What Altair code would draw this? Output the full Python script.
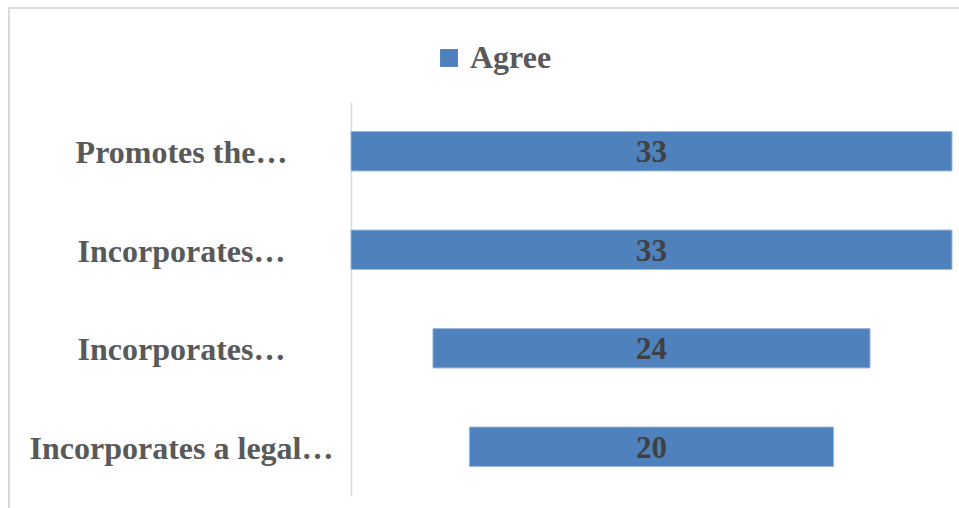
import altair as alt
import pandas as pd

categories = ["Promotes the…", "Incorporates…", "Incorporates… ", "Incorporates a legal…"]
values = [33, 33, 24, 20]
series_name = "Agree"

df = pd.DataFrame({"cat": categories, "val": values, "series": [series_name] * len(values)})

FONT = "Liberation Serif"
W, H = 601, 394

base = alt.Chart(df).transform_calculate(
    lo="-datum.val/2", hi="datum.val/2", mid="0"
)

y_enc = alt.Y(
    "cat:N",
    sort=categories,
    scale=alt.Scale(paddingInner=0.6, paddingOuter=0.3),
    axis=alt.Axis(
        title=None, ticks=False, domain=True, domainColor="#d9d9d9", domainWidth=1.5,
        labelFont=FONT, labelFontSize=32, labelFontWeight="bold", labelColor="#595959",
        labelAlign="center", labelPadding=170, labelLimit=400, labelBaseline="middle",
        labelOffset=2,
    ),
)

bars = base.mark_bar(color="#4f81bd", stroke="#9bb7dd", strokeWidth=1).encode(
    y=y_enc,
    x=alt.X("lo:Q", scale=alt.Scale(domain=[-16.5, 16.5], nice=False, zero=False), axis=None),
    x2="hi:Q",
    color=alt.Color(
        "series:N",
        scale=alt.Scale(range=["#4f81bd"]),
        legend=alt.Legend(
            title=None, orient="none", legendX=82, legendY=-60,
            symbolType="square", symbolSize=320, symbolStrokeWidth=0,
            labelFont=FONT, labelFontSize=32, labelFontWeight="bold", labelColor="#595959",
            labelOffset=5,
        ),
    ),
)

text = base.mark_text(
    font=FONT, fontSize=31, fontWeight="bold", color="#404040", baseline="middle", dy=2
).encode(
    y=alt.Y("cat:N", sort=categories),
    x=alt.X("mid:Q"),
    text="val:Q",
)

frame = alt.Chart(df).mark_rect(
    fill=None, stroke="#d9d9d9", strokeWidth=1.5, clip=False
).encode(
    x=alt.value(-342), x2=alt.value(W + 40), y=alt.value(-94), y2=alt.value(H + 60)
)

chart = alt.layer(frame, bars, text).properties(
    width=W, height=H,
    autosize=alt.AutoSizeParams(type="none"),
    padding={"left": 351, "top": 102, "right": 7, "bottom": 12},
    background="white",
).configure_view(stroke=None)

chart.save("out.html", embed_options={"renderer": "svg", "actions": False})
